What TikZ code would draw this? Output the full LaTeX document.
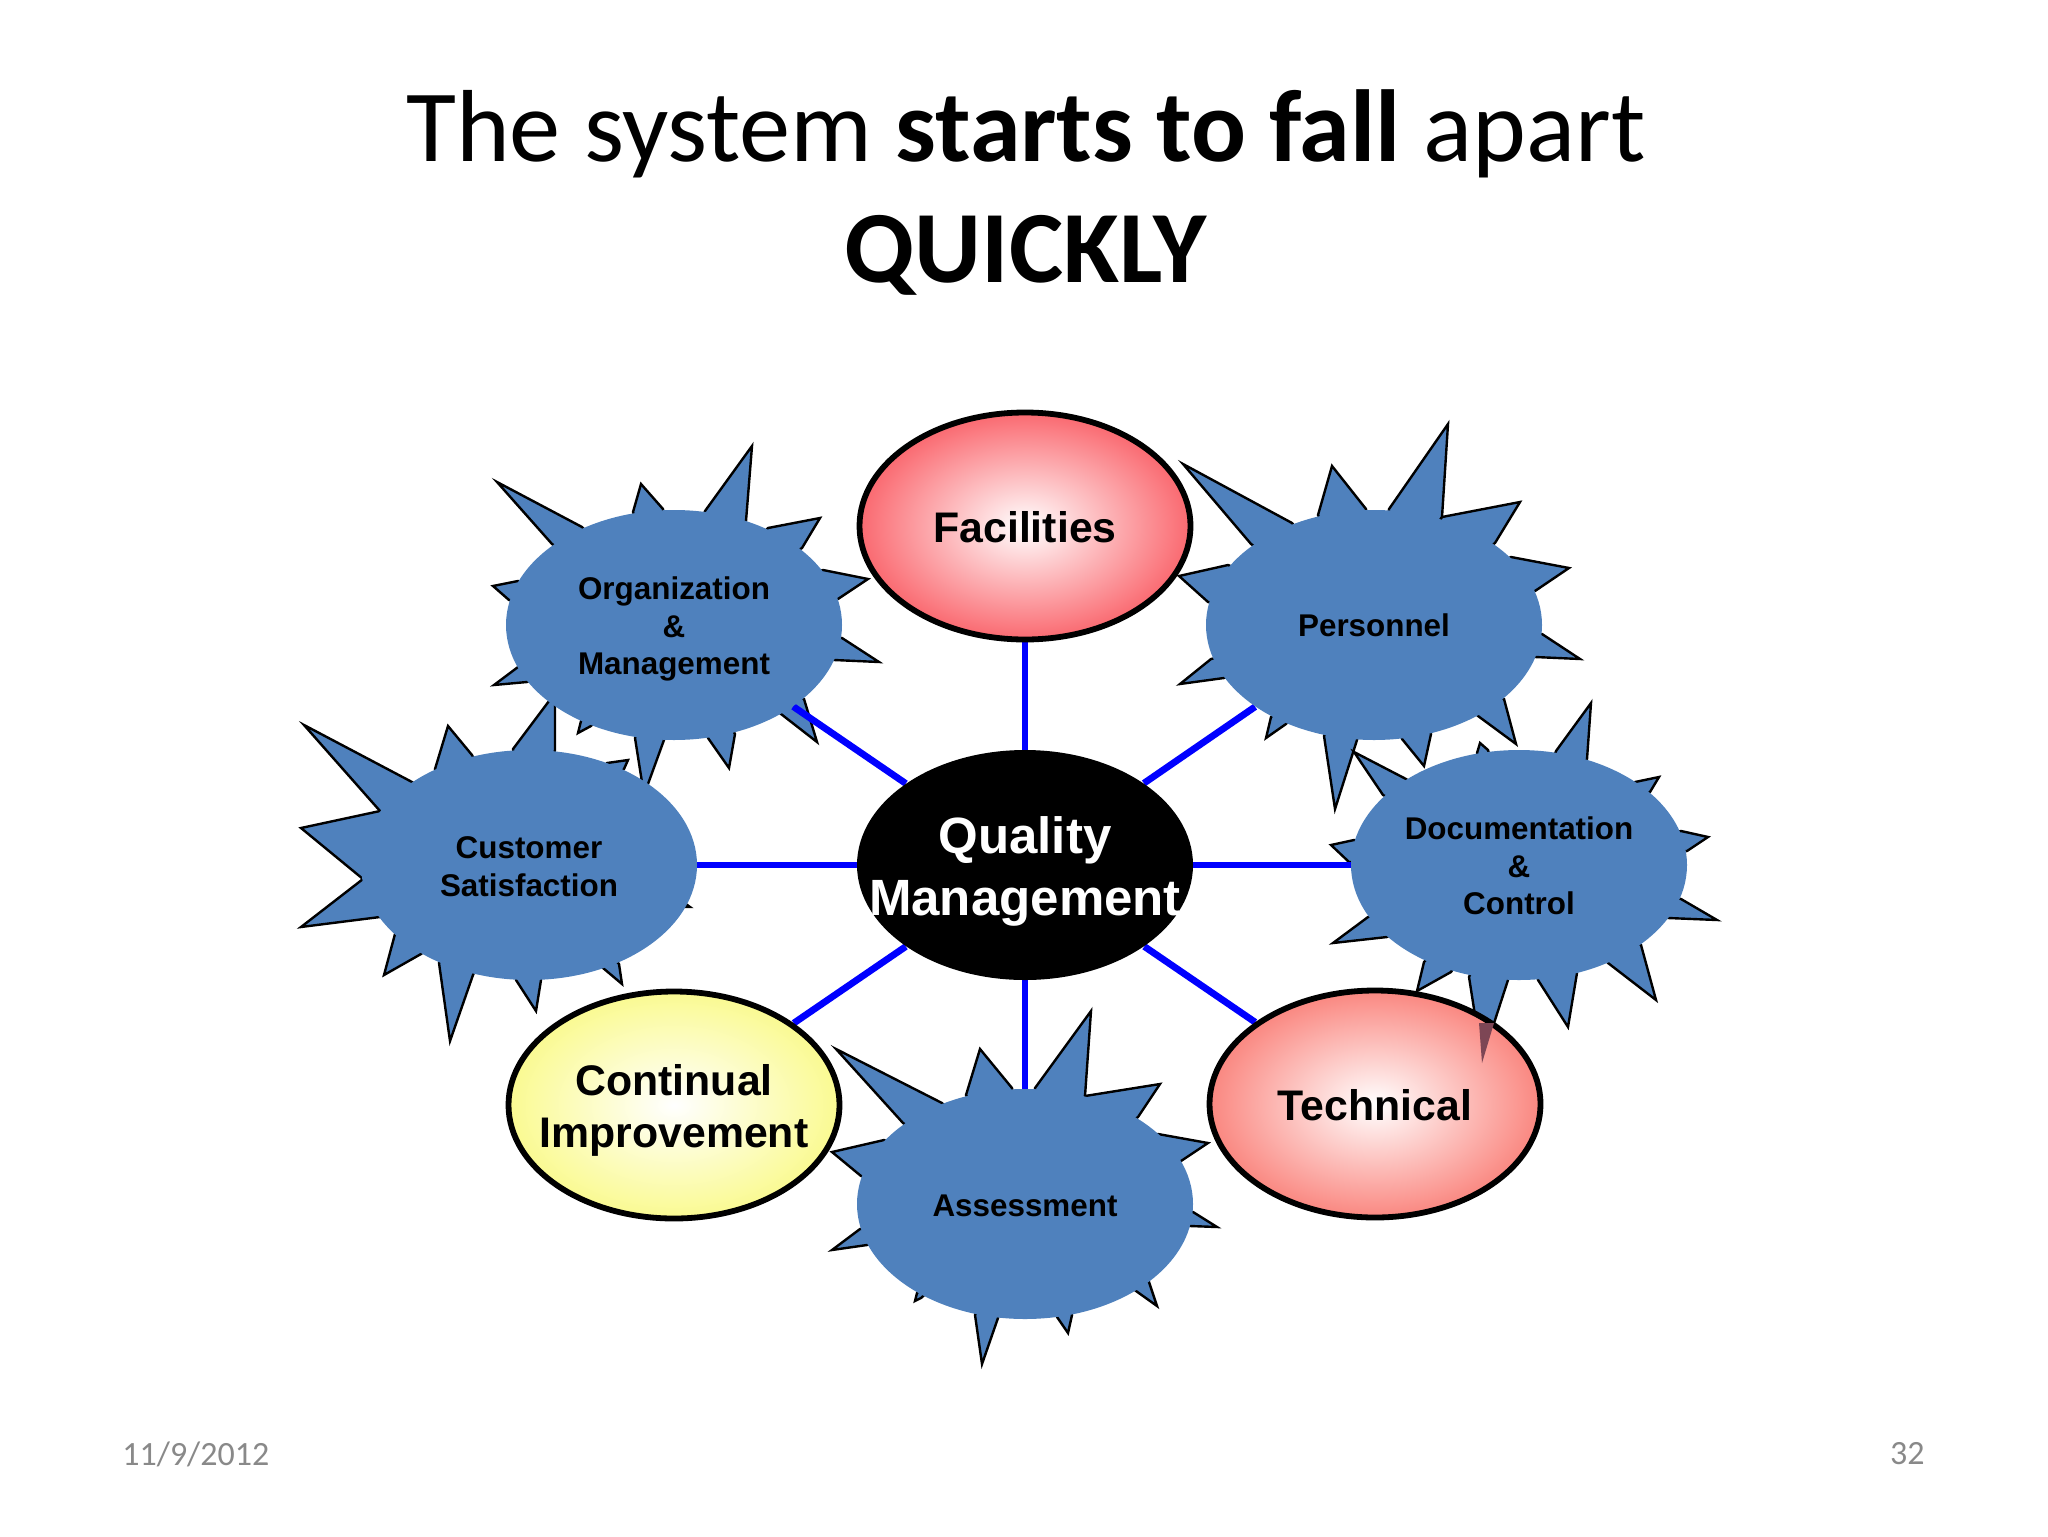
\documentclass[tikz,border=0pt]{standalone}
\usepackage{fontspec}
\setmainfont{Carlito}
\setsansfont{Liberation Sans}
\usetikzlibrary{shapes.geometric}
\definecolor{spikeblue}{RGB}{79,129,189}
\definecolor{facred}{RGB}{250,105,112}
\definecolor{techred}{RGB}{250,135,128}
\definecolor{impyellow}{RGB}{250,250,145}
\definecolor{tipred}{RGB}{125,70,85}
\definecolor{footgray}{RGB}{137,137,137}
\pgfdeclarelayer{spikes}
\pgfdeclarelayer{spokes}
\pgfsetlayers{spikes,spokes,main}
\tikzset{
	hub/.style={ellipse, minimum width=168pt, minimum height=115pt, inner xsep=-20pt, inner ysep=0pt, align=center},
	spiky/.style={draw=black, line width=1.2pt, line join=miter, fill=spikeblue},
	blob/.style={hub, fill=spikeblue, font=\sffamily\bfseries\fontsize{15.7}{18.7}\selectfont},
	ringed/.style={hub, draw=black, line width=2.9pt, minimum width=165.5pt, minimum height=113.5pt,
		shading=radial, font=\sffamily\bfseries\fontsize{21.4}{25.6}\selectfont},
	spoke/.style={blue, line width=3.4pt},
	foot/.style={footgray, font=\fontsize{17}{20}\selectfont, inner sep=0pt}
}
\begin{document}
\begin{tikzpicture}[x=0.5pt, y=-0.5pt]
	\useasboundingbox (0,0) rectangle (2048,1536);

	% title and footer
	\node[align=center, inner sep=0pt, font=\fontsize{51.2}{60.5}\selectfont] (title) at (1026,192)
		{The system \textbf{starts to fall} apart\\\textbf{QUICKLY}};
	\node[foot, anchor=west] (date) at (122,1454) {11/9/2012};
	\node[foot, anchor=east] (page) at (1925,1454) {32};

	% ellipses
	\node[hub, fill=black, text=white, font=\sffamily\bfseries\fontsize{25.5}{30.8}\selectfont] (quality) at (1025,865) {\rule{0pt}{25pt}Quality\\Management};
	\node[ringed, inner color=white, outer color=facred] (facilities) at (1025,526) {\rule{0pt}{17pt}Facilities};
	\node[ringed, inner color=white, outer color=techred] (technical) at (1375,1104) {\rule{0pt}{17pt}Technical};
	\node[ringed, inner color=white, outer color=impyellow] (improvement) at (674,1105) {\rule{0pt}{21pt}Continual\\Improvement};
	\node[blob] (organization) at (674,625) {\rule{0pt}{15.5pt}Organization\\\&\\Management};
	\node[blob] (personnel) at (1374,625) {Personnel};
	\node[blob] (customer) at (529,865) {\rule{0pt}{12.5pt}Customer\\Satisfaction};
	\node[blob] (documentation) at (1519,865) {\rule{0pt}{12.5pt}Documentation\\\&\\Control};
	\node[blob] (assessment) at (1025,1204) {\rule{0pt}{13pt}Assessment};

	% spokes
	\begin{pgfonlayer}{spokes}
		\draw[spoke] (quality) -- (facilities);
		\draw[spoke] (quality) -- (technical);
		\draw[spoke] (quality) -- (improvement);
		\draw[spoke] (quality) -- (organization);
		\draw[spoke] (quality) -- (personnel);
		\draw[spoke] (quality) -- (customer);
		\draw[spoke] (quality) -- (documentation);
		\draw[spoke] (quality) -- (assessment);
	\end{pgfonlayer}

	% spikes behind the blue ellipses
	\begin{pgfonlayer}{spikes}
		\foreach \ax/\ay/\tx/\ty/\bx/\by in {552/544/497/482/582/527, 633/512/641/484/663/509, 705/511/752/446/746/521,
			768/528/820/518/802/548, 823/570/868/579/838/599, 842/638/879/662/834/660, 804/699/817/742/781/714,
			735/734/729/768/708/738, 664/740/644/795/635/738, 591/726/578/733/581/721, 527/682/494/685/518/667,
			509/600/493/586/518/581}
			\draw[spiky] (\ax,\ay) -- (\tx,\ty) -- (\bx,\by) -- (organization.center) -- cycle;
		\foreach \ax/\ay/\tx/\ty/\bx/\by in {412/782/304/725/380/811, 380/811/301/828/363/879, 363/879/301/927/380/917,
			395/934/384/975/421/954, 439/963/450/1041/473/975, 516/980/536/1011/541/980, 603/968/622/984/619/964,
			679/899/690/907/674/907, 624/769/628/760/607/763, 555/750/555/693/513/749, 472/755/448/726/435/769}
			\draw[spiky] (\ax,\ay) -- (\tx,\ty) -- (\bx,\by) -- (customer.center) -- cycle;
		\begin{scope}[xshift=-1pt]
			\foreach \ax/\ay/\tx/\ty/\bx/\by in {1253/544/1185/464/1294/523, 1320/515/1334/466/1368/509, 1391/509/1450/424/1444/517,
				1444/517/1522/502/1497/543, 1513/557/1571/568/1537/591, 1544/634/1582/659/1537/657, 1506/699/1518/744/1480/716,
				1433/734/1426/766/1404/739, 1359/740/1337/809/1326/736, 1288/724/1268/738/1273/717, 1226/678/1182/684/1213/659,
				1210/602/1181/576/1230/565}
				\draw[spiky] (\ax,\ay) -- (\tx,\ty) -- (\bx,\by) -- (1376,625) -- cycle;
			\foreach \ax/\ay/\tx/\ty/\bx/\by in {1385/795/1356/752/1408/779, 1479/753/1482/743/1490/750, 1558/751/1593/703/1589/759,
				1637/782/1661/777/1652/792, 1683/831/1710/837/1689/851, 1683/899/1719/920/1670/918, 1643/945/1658/1000/1610/963,
				1579/973/1570/1027/1540/980, 1510/980/1484/1060/1471/977, 1453/972/1419/991/1426/962, 1389/937/1335/943/1370/917,
				1351/862/1333/845/1356/840}
				\draw[spiky] (\ax,\ay) -- (\tx,\ty) -- (\bx,\by) -- (1521,865) -- cycle;
		\end{scope}
		\begin{scope}[xshift=-0.5pt]
			\foreach \ax/\ay/\tx/\ty/\bx/\by in {904/1123/837/1049/943/1103, 967/1095/981/1049/1013/1088, 1036/1088/1092/1011/1086/1096,
				1086/1096/1161/1084/1139/1117, 1159/1134/1209/1143/1182/1161, 1194/1212/1218/1227/1191/1226, 1150/1282/1158/1306/1137/1291,
				1073/1315/1069/1333/1058/1317, 999/1318/983/1364/976/1315, 922/1298/916/1301/918/1293, 868/1245/833/1250/861/1229,
				862/1176/833/1152/885/1140}
				\draw[spiky] (\ax,\ay) -- (\tx,\ty) -- (\bx,\by) -- (1026,1204) -- cycle;
		\end{scope}
	\end{pgfonlayer}

	% tip of the documentation spike showing through
	\fill[tipred] (1479,1023) -- (1494,1023) -- (1482,1063) -- cycle;
\end{tikzpicture}
\end{document}
